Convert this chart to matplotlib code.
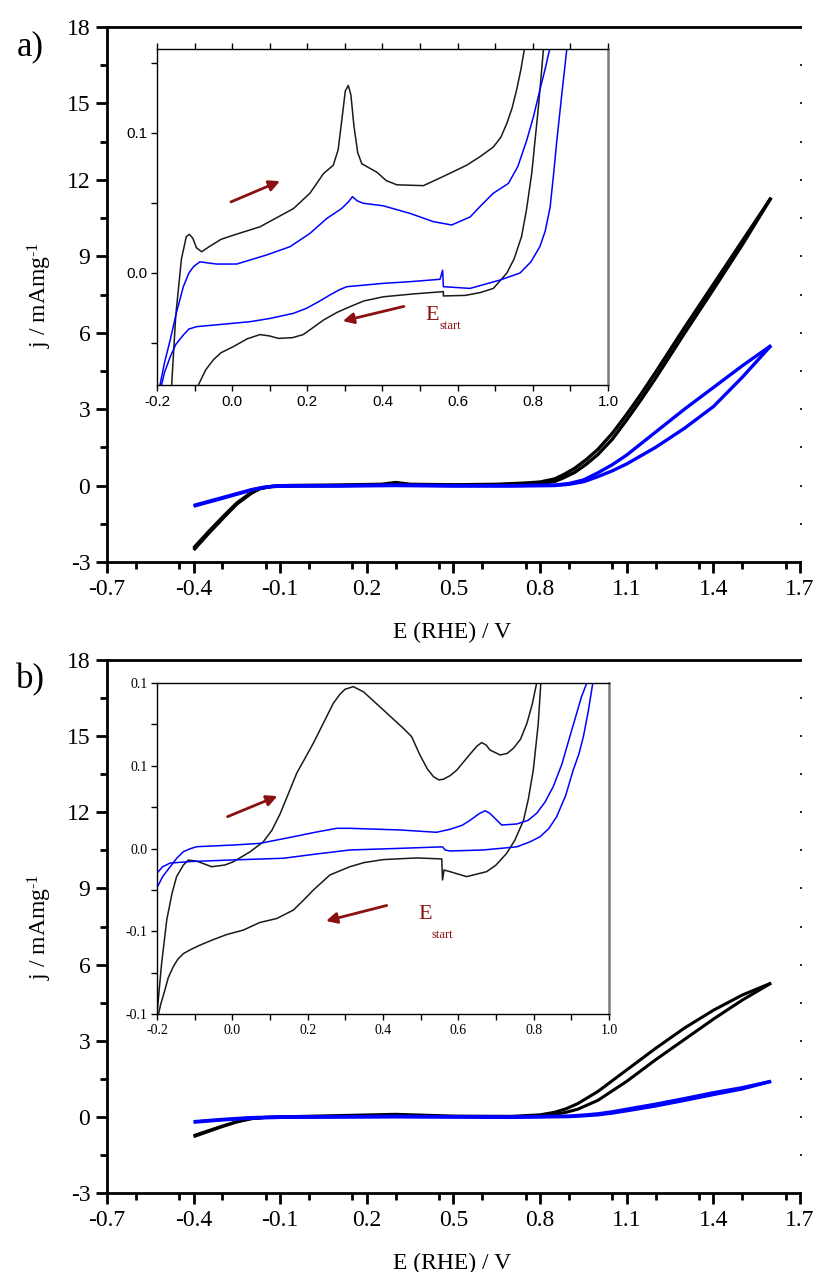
import matplotlib
matplotlib.use("Agg")
import matplotlib.pyplot as plt
from matplotlib.ticker import FixedLocator, MultipleLocator, FixedFormatter

plt.rcParams['font.family'] = ['Liberation Serif', 'DejaVu Serif']
plt.rcParams['mathtext.fontset'] = 'custom'
plt.rcParams['mathtext.rm'] = 'Liberation Serif'
plt.rcParams['mathtext.default'] = 'regular'

# ---- panel a, full range CV (E in V vs RHE, j in mA/mg) ----
a_blk_E = [-0.40, -0.35, -0.30, -0.25, -0.20, -0.17, -0.13, -0.08, 0.10, 0.25, 0.30, 0.35, 0.50,
           0.65, 0.75, 0.80, 0.85, 0.88, 0.92, 0.96, 1.00, 1.05, 1.10, 1.15, 1.20, 1.30, 1.40,
           1.50, 1.60]
a_blk_fwd = [-2.53, -1.90, -1.30, -0.72, -0.30, -0.12, -0.03, 0.00, 0.02, 0.05, 0.12, 0.05, 0.03,
             0.05, 0.10, 0.14, 0.26, 0.42, 0.68, 1.02, 1.42, 2.05, 2.80, 3.60, 4.45, 6.20, 7.90,
             9.60, 11.30]
a_blk_rev = [-2.45, -1.83, -1.24, -0.68, -0.27, -0.11, -0.04, -0.02, 0.00, 0.02, 0.03, 0.02, 0.01,
             0.02, 0.05, 0.08, 0.16, 0.30, 0.52, 0.84, 1.22, 1.82, 2.58, 3.38, 4.22, 5.98, 7.70,
             9.45, 11.30]
a_blu_E = [-0.40, -0.30, -0.20, -0.16, -0.12, -0.05, 0.10, 0.30, 0.50, 0.70, 0.85, 0.90, 0.95,
           1.00, 1.05, 1.10, 1.20, 1.30, 1.40, 1.50, 1.60]
a_blu_fwd = [-0.81, -0.50, -0.18, -0.08, -0.02, 0.00, 0.00, 0.02, 0.00, 0.00, 0.02, 0.08, 0.22,
             0.50, 0.82, 1.20, 2.10, 3.00, 3.85, 4.70, 5.50]
a_blu_rev = [-0.78, -0.47, -0.16, -0.07, -0.03, -0.02, -0.02, 0.00, -0.02, -0.02, 0.00, 0.05, 0.15,
             0.35, 0.58, 0.85, 1.50, 2.25, 3.10, 4.25, 5.50]

# ---- panel b, full range CV ----
b_blk_E = [-0.40, -0.35, -0.30, -0.25, -0.20, -0.15, -0.10, 0.10, 0.30, 0.50, 0.70, 0.80, 0.85,
           0.89, 0.93, 1.00, 1.10, 1.20, 1.30, 1.40, 1.50, 1.60]
b_blk_fwd = [-0.78, -0.58, -0.38, -0.20, -0.07, -0.02, 0.00, 0.05, 0.10, 0.03, 0.02, 0.08, 0.18,
             0.32, 0.52, 1.00, 1.85, 2.70, 3.50, 4.20, 4.80, 5.27]
b_blk_rev = [-0.74, -0.55, -0.36, -0.19, -0.07, -0.02, -0.01, 0.02, 0.05, 0.01, 0.00, 0.04, 0.10,
             0.18, 0.30, 0.65, 1.40, 2.25, 3.05, 3.85, 4.60, 5.27]
b_blu_E = [-0.40, -0.30, -0.20, -0.10, 0.30, 0.70, 0.90, 0.95, 1.00, 1.05, 1.10, 1.20, 1.30, 1.40,
           1.50, 1.60]
b_blu_fwd = [-0.19, -0.10, -0.03, 0.00, 0.02, 0.00, 0.03, 0.07, 0.12, 0.20, 0.30, 0.50, 0.72,
             0.95, 1.15, 1.40]
b_blu_rev = [-0.21, -0.12, -0.05, -0.02, 0.00, -0.02, 0.01, 0.04, 0.08, 0.15, 0.24, 0.43, 0.65,
             0.88, 1.10, 1.40]

# ---- inset a, zoomed low-current region ----
ia_blk_up_E = [-0.161, -0.150, -0.135, -0.122, -0.114, -0.105, -0.095, -0.081, -0.060, -0.030,
               0.003, 0.074, 0.163, 0.207, 0.243, 0.269, 0.282, 0.293, 0.301, 0.309, 0.316, 0.324,
               0.334, 0.345, 0.365, 0.385, 0.410, 0.438, 0.509, 0.562, 0.624, 0.659, 0.695, 0.715,
               0.731, 0.745, 0.757, 0.768, 0.777]
ia_blk_up_j = [-0.080, -0.030, 0.010, 0.026, 0.0276, 0.025, 0.018, 0.0152, 0.019, 0.024, 0.027,
               0.033, 0.046, 0.057, 0.071, 0.077, 0.088, 0.112, 0.130, 0.134, 0.127, 0.105, 0.086,
               0.078, 0.075, 0.072, 0.066, 0.063, 0.0624, 0.069, 0.077, 0.083, 0.090, 0.097, 0.107,
               0.118, 0.131, 0.145, 0.159]
ia_blk_dn_E = [0.828, 0.815, 0.797, 0.783, 0.770, 0.750, 0.731, 0.695, 0.660, 0.620, 0.562, 0.562,
               0.480, 0.402, 0.350, 0.314, 0.280, 0.243, 0.210, 0.189, 0.160, 0.123, 0.100, 0.074,
               0.040, 0.003, -0.030, -0.050, -0.070, -0.090]
ia_blk_dn_j = [0.159, 0.119, 0.071, 0.045, 0.026, 0.010, 0.000, -0.011, -0.014, -0.016, -0.0164,
               -0.0133, -0.015, -0.017, -0.020, -0.024, -0.028, -0.0336, -0.040, -0.044, -0.0462,
               -0.0467, -0.045, -0.044, -0.047, -0.0526, -0.057, -0.062, -0.069, -0.080]
ia_blu_up_E = [-0.192, -0.180, -0.165, -0.148, -0.130, -0.115, -0.103, -0.086, -0.065, -0.041,
               0.012, 0.092, 0.154, 0.207, 0.252, 0.291, 0.310, 0.320, 0.333, 0.349, 0.402, 0.473,
               0.535, 0.584, 0.633, 0.665, 0.695, 0.735, 0.760, 0.784, 0.802, 0.819, 0.833, 0.844]
ia_blu_up_j = [-0.080, -0.064, -0.048, -0.028, -0.0098, 0.000, 0.0045, 0.008, 0.0072, 0.0064,
               0.0064, 0.0129, 0.0188, 0.0283, 0.039, 0.046, 0.051, 0.0545, 0.0515, 0.0498, 0.048,
               0.0426, 0.0367, 0.0343, 0.040, 0.049, 0.057, 0.064, 0.076, 0.095, 0.112, 0.131,
               0.146, 0.159]
ia_blu_dn_E = [0.890, 0.876, 0.864, 0.855, 0.846, 0.833, 0.819, 0.795, 0.766, 0.713, 0.633, 0.564,
               0.562, 0.560, 0.553, 0.473, 0.402, 0.305, 0.285, 0.260, 0.230, 0.198, 0.163, 0.100,
               0.047, -0.041, -0.094, -0.115, -0.130, -0.150, -0.165, -0.180, -0.188]
ia_blu_dn_j = [0.159, 0.125, 0.095, 0.070, 0.047, 0.030, 0.019, 0.008, 0.000, -0.005, -0.011,
               -0.0098, -0.0098, 0.002, -0.0045, -0.0062, -0.0074, -0.0098, -0.0120, -0.0157,
               -0.0205, -0.0252, -0.0288, -0.0325, -0.0348, -0.037, -0.0383, -0.040, -0.0443,
               -0.051, -0.060, -0.071, -0.080]

# ---- inset b ----
ib_blk_up_E = [-0.200, -0.188, -0.174, -0.160, -0.148, -0.130, -0.117, -0.095, -0.055, -0.020,
               0.003, 0.047, 0.082, 0.105, 0.127, 0.171, 0.215, 0.268, 0.285, 0.299, 0.321, 0.348,
               0.401, 0.454, 0.476, 0.498, 0.518, 0.534, 0.548, 0.560, 0.578, 0.596, 0.631, 0.650,
               0.662, 0.674, 0.684, 0.711, 0.730, 0.746, 0.765, 0.782, 0.796, 0.808]
ib_blk_up_j = [-0.100, -0.070, -0.043, -0.027, -0.017, -0.010, -0.007, -0.0076, -0.011, -0.010,
               -0.008, -0.002, 0.004, 0.011, 0.021, 0.0455, 0.0636, 0.0877, 0.093, 0.0962, 0.0978,
               0.0947, 0.0837, 0.0726, 0.0676, 0.0565, 0.048, 0.0434, 0.0415, 0.0418, 0.0440,
               0.0474, 0.0570, 0.062, 0.064, 0.0625, 0.0595, 0.0565, 0.0575, 0.0605, 0.066, 0.0756,
               0.087, 0.100]
ib_blk_dn_E = [0.819, 0.812, 0.799, 0.786, 0.773, 0.750, 0.728, 0.700, 0.675, 0.622, 0.578, 0.562,
               0.558, 0.556, 0.489, 0.401, 0.350, 0.312, 0.259, 0.215, 0.190, 0.162, 0.118, 0.073,
               0.029, -0.015, -0.050, -0.086, -0.110, -0.130, -0.145, -0.157, -0.170, -0.179,
               -0.190, -0.196]
ib_blk_dn_j = [0.100, 0.075, 0.0474, 0.030, 0.017, 0.005, -0.003, -0.010, -0.014, -0.017, -0.014,
               -0.013, -0.019, -0.0063, -0.0057, -0.0067, -0.0085, -0.011, -0.016, -0.0251, -0.031,
               -0.0372, -0.0423, -0.0447, -0.0493, -0.052, -0.055, -0.0584, -0.061, -0.0635,
               -0.067, -0.0715, -0.078, -0.0855, -0.094, -0.100]
ib_blu_up_E = [-0.200, -0.185, -0.165, -0.148, -0.130, -0.110, -0.094, 0.003, 0.073, 0.162, 0.220,
               0.277, 0.312, 0.445, 0.542, 0.578, 0.610, 0.631, 0.655, 0.671, 0.682, 0.693, 0.715,
               0.755, 0.785, 0.808, 0.830, 0.852, 0.875, 0.896, 0.912, 0.927, 0.941]
ib_blu_up_j = [-0.0237, -0.017, -0.011, -0.006, -0.0019, 0.000, 0.0011, 0.0021, 0.0031, 0.0071,
               0.0098, 0.0122, 0.0122, 0.0112, 0.0098, 0.0116, 0.014, 0.017, 0.021, 0.0228, 0.0215,
               0.0192, 0.0142, 0.0148, 0.017, 0.0213, 0.028, 0.0374, 0.051, 0.0676, 0.080, 0.0917,
               0.100]
ib_blu_dn_E = [0.957, 0.945, 0.932, 0.920, 0.905, 0.885, 0.861, 0.840, 0.817, 0.790, 0.755, 0.666,
               0.578, 0.565, 0.558, 0.445, 0.312, 0.224, 0.135, 0.003, -0.112, -0.165, -0.185,
               -0.200]
ib_blu_dn_j = [0.100, 0.083, 0.0676, 0.057, 0.0474, 0.032, 0.0192, 0.012, 0.0071, 0.004, 0.001,
               -0.0009, -0.0015, -0.0009, 0.001, 0.0001, -0.0009, -0.0033, -0.0059, -0.0069,
               -0.0079, -0.0088, -0.011, -0.0149]

x_ticks = [-0.7, -0.4, -0.1, 0.2, 0.5, 0.8, 1.1, 1.4, 1.7]
y_ticks = [-3, 0, 3, 6, 9, 12, 15, 18]
inset_x_ticks = [-0.2, 0.0, 0.2, 0.4, 0.6, 0.8, 1.0]
ib_y_ticks = [-0.1, -0.05, 0.0, 0.05, 0.1]
ib_y_labels = ['-0.1', '-0.1', '0.0', '0.1', '0.1']

BLACK = '#000000'
BLUE = '#0000ff'
ARROW = '#8b1010'
W, H = 820, 1272

fig = plt.figure(figsize=(W / 100, H / 100), dpi=100)


def px_axes(left, top, right, bottom):
    return fig.add_axes([left / W, 1 - bottom / H, (right - left) / W, (bottom - top) / H])


def style_main(ax):
    ax.set_xlim(-0.7, 1.7)
    ax.set_ylim(-3, 18)
    ax.xaxis.set_major_locator(FixedLocator(x_ticks))
    ax.xaxis.set_minor_locator(MultipleLocator(0.15))
    ax.yaxis.set_major_locator(FixedLocator(y_ticks))
    ax.yaxis.set_minor_locator(MultipleLocator(1.5))
    ax.set_xticklabels(['%.1f' % v for v in x_ticks])
    ax.set_yticklabels(['%d' % v for v in y_ticks])
    ax.spines['right'].set_visible(False)
    for s in ('left', 'bottom', 'top'):
        ax.spines[s].set_linewidth(2.0)
    ax.tick_params(which='major', direction='out', length=8, width=2, labelsize=17, pad=4)
    ax.tick_params(which='minor', direction='out', length=5, width=2)
    ax.tick_params(axis='y', which='both', right=True, labelright=False)
    # the right-hand ticks are only small dots
    for t in ax.yaxis.get_ticklines(minor=False)[1::2] + ax.yaxis.get_ticklines(minor=True)[1::2]:
        t.set_markersize(1.5)
        t.set_markeredgewidth(1.2)


def style_inset(ax, ylim, sans, top_ticks):
    ax.set_xlim(-0.2, 1.0)
    ax.set_ylim(*ylim)
    ax.xaxis.set_major_locator(FixedLocator(inset_x_ticks))
    ax.xaxis.set_minor_locator(MultipleLocator(0.1))
    ax.set_xticklabels(['%.1f' % v for v in inset_x_ticks])
    fam = ['Liberation Sans'] if sans else ['Liberation Serif']
    for lab in ax.get_xticklabels() + ax.get_yticklabels():
        lab.set_family(fam)
    ax.spines['right'].set_color('#7a7a7a')
    ax.spines['right'].set_linewidth(1.8)
    for s in ('left', 'bottom', 'top'):
        ax.spines[s].set_linewidth(1.0)
    ax.tick_params(which='both', direction='out', length=4, width=1,
                   labelsize=11 if sans else 10, pad=3)
    ax.tick_params(axis='x', which='both', top=top_ticks)


def arrow(ax, tail, head):
    ax.annotate('', xy=head, xytext=tail,
                arrowprops=dict(arrowstyle='-|>', color=ARROW, lw=2, mutation_scale=16))


# ---------------- panel a ----------------
ax1 = px_axes(107, 27, 800, 562)
ax1.plot(a_blk_E, a_blk_fwd, color=BLACK, lw=2.4, solid_capstyle='butt')
ax1.plot(a_blk_E, a_blk_rev, color=BLACK, lw=2.4, solid_capstyle='butt')
ax1.plot(a_blu_E, a_blu_fwd, color=BLUE, lw=2.4, solid_capstyle='butt')
ax1.plot(a_blu_E, a_blu_rev, color=BLUE, lw=2.4, solid_capstyle='butt')
style_main(ax1)

in1 = px_axes(157, 49, 608, 385)
in1.plot(ia_blk_up_E, ia_blk_up_j, color='#1a1a1a', lw=1.1)
in1.plot(ia_blk_dn_E, ia_blk_dn_j, color='#1a1a1a', lw=1.1)
in1.plot(ia_blu_up_E, ia_blu_up_j, color=BLUE, lw=1.1)
in1.plot(ia_blu_dn_E, ia_blu_dn_j, color=BLUE, lw=1.1)
in1.yaxis.set_major_locator(FixedLocator([0.0, 0.1]))
in1.yaxis.set_minor_locator(FixedLocator([-0.05, 0.05, 0.15]))
in1.set_yticklabels(['0.0', '0.1'])
style_inset(in1, (-0.08, 0.16), True, True)
arrow(in1, (-0.010, 0.050), (0.134, 0.0664))
arrow(in1, (0.464, -0.0234), (0.287, -0.0348))
in1.text(0.515, -0.030, 'E', color=ARROW, fontsize=16, ha='left', va='center')
in1.text(0.552, -0.038, 'start', color=ARROW, fontsize=9, ha='left', va='center')

# ---------------- panel b ----------------
ax2 = px_axes(107, 660, 800, 1193)
ax2.plot(b_blk_E, b_blk_fwd, color=BLACK, lw=2.2, solid_capstyle='butt')
ax2.plot(b_blk_E, b_blk_rev, color=BLACK, lw=2.2, solid_capstyle='butt')
ax2.plot(b_blu_E, b_blu_fwd, color=BLUE, lw=2.4, solid_capstyle='butt')
ax2.plot(b_blu_E, b_blu_rev, color=BLUE, lw=2.4, solid_capstyle='butt')
style_main(ax2)

in2 = px_axes(157, 683, 609, 1014)
in2.plot(ib_blk_up_E, ib_blk_up_j, color='#1a1a1a', lw=1.1)
in2.plot(ib_blk_dn_E, ib_blk_dn_j, color='#1a1a1a', lw=1.1)
in2.plot(ib_blu_up_E, ib_blu_up_j, color=BLUE, lw=1.1)
in2.plot(ib_blu_dn_E, ib_blu_dn_j, color=BLUE, lw=1.1)
in2.yaxis.set_major_locator(FixedLocator(ib_y_ticks))
in2.yaxis.set_minor_locator(MultipleLocator(0.025))
in2.yaxis.set_major_formatter(FixedFormatter(ib_y_labels))
style_inset(in2, (-0.1, 0.1), False, False)
arrow(in2, (-0.0195, 0.0186), (0.1265, 0.0323))
arrow(in2, (0.417, -0.034), (0.2415, -0.0442))
in2.text(0.495, -0.040, 'E', color=ARROW, fontsize=16, ha='left', va='center')
in2.text(0.530, -0.052, 'start', color=ARROW, fontsize=9, ha='left', va='center')

# axis titles and panel letters
for top_px, bot_px, letter in ((27, 562, 'a)'), (660, 1193, 'b)')):
    fig.text(40 / W, 1 - (top_px + bot_px) / 2 / H, r'j / mAmg$^{\text{-1}}$',
             rotation=90, ha='center', va='center', fontsize=17)
    fig.text(452 / W, 1 - (bot_px + 70) / H, 'E (RHE) / V', ha='center', va='center', fontsize=17)
    fig.text(30 / W, 1 - (top_px + 20) / H, letter, ha='center', va='center', fontsize=25)

fig.savefig('out.png', dpi=100)
